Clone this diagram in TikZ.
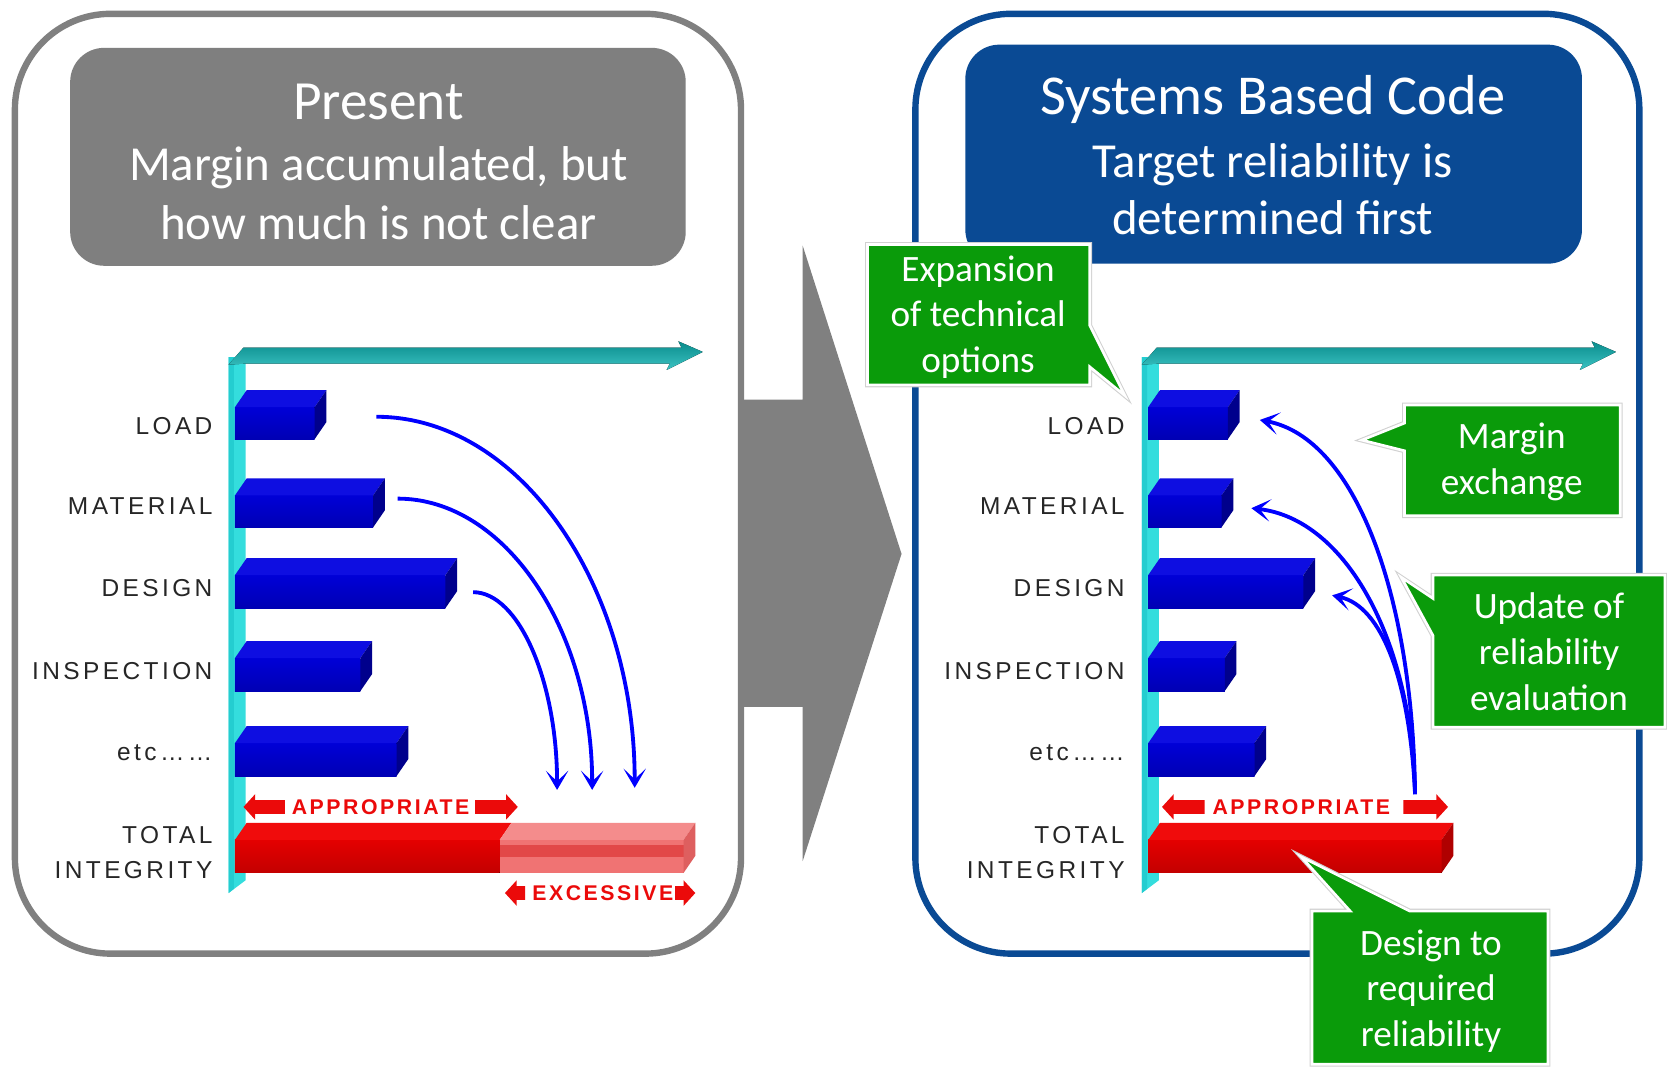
\documentclass[tikz,border=0pt]{standalone}
\usepackage{fontspec}
\setmainfont{Carlito}
\newfontfamily\lblfont[LetterSpace=14]{Liberation Sans}
\newfontfamily\tagfont[LetterSpace=12]{Liberation Sans}
\usetikzlibrary{arrows.meta,calc}
\definecolor{boxgray}{RGB}{128,128,128}
\definecolor{hdrgray}{RGB}{127,127,127}
\definecolor{sbcblue}{RGB}{10,74,148}
\definecolor{callgreen}{RGB}{10,155,10}
\definecolor{barfronttop}{RGB}{0,0,215}
\definecolor{barfrontbot}{RGB}{0,0,180}
\definecolor{bartop}{RGB}{14,14,225}
\definecolor{barside}{RGB}{0,0,140}
\definecolor{redfronttop}{RGB}{228,0,0}
\definecolor{redfrontbot}{RGB}{195,0,0}
\definecolor{redtop}{RGB}{240,12,12}
\definecolor{redside}{RGB}{175,0,0}
\definecolor{pinkfront}{RGB}{240,115,115}
\definecolor{pinktop}{RGB}{244,140,140}
\definecolor{pinkside}{RGB}{222,95,95}
\definecolor{pinkband}{RGB}{226,72,72}
\definecolor{axcyan}{RGB}{52,221,221}
\definecolor{axcyandk}{RGB}{36,205,208}
\definecolor{axteal}{RGB}{10,140,140}
\definecolor{axteallt}{RGB}{60,195,195}
\definecolor{tagred}{RGB}{235,10,10}
\definecolor{curvblue}{RGB}{0,0,255}

% 3D bar: x0, ytop, xright, ybottom, front style, top colour, side colour
\newcommand\tdbar[7]{%
  \pgfmathsetmacro\tdA{#2+16}\pgfmathsetmacro\tdB{#1+11}%
  \pgfmathsetmacro\tdC{#3-11}\pgfmathsetmacro\tdD{#4-16}%
  \fill[#5] (#1,\tdA) rectangle (\tdC,#4);
  \fill[#6] (#1,\tdA) -- (\tdB,#2) -- (#3,#2) -- (\tdC,\tdA) -- cycle;
  \fill[#7] (\tdC,\tdA) -- (#3,#2) -- (#3,\tdD) -- (\tdC,#4) -- cycle;
}
% left-pointing red arrow piece: tip x, shaft end x, y
\newcommand\larrow[3]{%
  \fill[tagred] (#1,#3) -- (#1+11,#3-12) -- (#1+11,#3-6.5) -- (#2,#3-6.5)
    -- (#2,#3+6.5) -- (#1+11,#3+6.5) -- (#1+11,#3+12) -- cycle;
}
% right-pointing red arrow piece: tip x, shaft end x, y
\newcommand\rarrow[3]{%
  \fill[tagred] (#1,#3) -- (#1-11,#3-12) -- (#1-11,#3-6.5) -- (#2,#3-6.5)
    -- (#2,#3+6.5) -- (#1-11,#3+6.5) -- (#1-11,#3+12) -- cycle;
}
% chart axis, shifted by #1
\newcommand\chartaxis[1]{%
  \begin{scope}[xshift=#1pt]
    \fill[axcyan] (215,336) -- (231,336) -- (231,828) -- (215,840) -- cycle;
    \fill[axcyandk] (215,336) -- (220,336) -- (220,836) -- (215,840) -- cycle;
    \fill[top color=axteal, bottom color=axteallt] (215,343) -- (229,327) -- (641,327)
      -- (638,321) -- (661,331) -- (627,348) -- (630,342) -- (231,342) -- cycle;
  \end{scope}
}

\begin{document}
\begin{tikzpicture}[x=1pt,y=-1pt,
  lbl/.style={font=\lblfont\fontsize{23}{27}\selectfont, anchor=base east, inner sep=0pt, text=black!85},
  tag/.style={font=\tagfont\bfseries\fontsize{20}{24}\selectfont, anchor=base, inner sep=0pt, text=tagred},
  callout/.style={fill=callgreen, draw=white, line width=2.5pt, line join=miter},
  calloutshadow/.style={draw=black!18, line width=4.5pt, line join=miter},
  ctext/.style={font=\fontsize{35}{42}\selectfont, text=white, anchor=base, inner sep=0pt},
  htitle/.style={font=\fontsize{52}{60}\selectfont, text=white, anchor=base, inner sep=0pt},
  hsub/.style={font=\fontsize{46}{55}\selectfont, text=white, anchor=base, inner sep=0pt},
  curv/.style={draw=curvblue, line width=3.6pt, -{Stealth[length=18pt,width=21pt,inset=10pt]}},
  bluefront/.style={top color=barfronttop, bottom color=barfrontbot},
  redfront/.style={top color=redfronttop, bottom color=redfrontbot}
]
\useasboundingbox (0,0) rectangle (1568,1006);

% ---------- outer panels ----------
\draw[boxgray, line width=6pt, rounded corners=90pt, fill=white] (14,13) rectangle (697,897);
\draw[sbcblue, line width=6pt, rounded corners=90pt, fill=white] (861,13) rectangle (1542,897);

% big transition arrow
\fill[boxgray] (697,376) -- (755,376) -- (755,231) -- (848,521) -- (755,810) -- (755,665) -- (697,665) -- cycle;

% ---------- headers ----------
\fill[hdrgray, rounded corners=32pt] (66,45) rectangle (645,250);
\node[htitle] (hp1) at (356,112) {Present};
\node[hsub] (hp2) at (356,170) {Margin accumulated, but};
\node[hsub] (hp3) at (356,225) {how much is not clear};

\fill[sbcblue, rounded corners=32pt] (908,42) rectangle (1488,248);
\node[htitle, font=\fontsize{53}{60}\selectfont] (hs1) at (1197,108) {Systems Based Code};
\node[hsub] (hs2) at (1197,167) {Target reliability is};
\node[hsub] (hs3) at (1197,221) {determined first};

% ---------- left chart ----------
\chartaxis{0}
\tdbar{221}{367}{307}{413}{bluefront}{bartop}{barside}
\tdbar{221}{450}{362}{496}{bluefront}{bartop}{barside}
\tdbar{221}{525}{430}{572}{bluefront}{bartop}{barside}
\tdbar{221}{603}{350}{650}{bluefront}{bartop}{barside}
\tdbar{221}{683}{384}{730}{bluefront}{bartop}{barside}
% total integrity (appropriate part + excessive part)
\fill[redfront] (221,790) rectangle (470,821);
\fill[redtop] (221,790) -- (232,774) -- (481,774) -- (470,790) -- cycle;
\fill[pinkfront] (470,790) rectangle (643,821);
\fill[pinkband] (470,795) rectangle (643,806);
\fill[pinktop] (470,790) -- (481,774) -- (654,774) -- (643,790) -- cycle;
\fill[pinkside] (643,790) -- (654,774) -- (654,805) -- (643,821) -- cycle;

\node[lbl] (lL1) at (200,409) {LOAD};
\node[lbl] (lL2) at (200,484) {MATERIAL};
\node[lbl] (lL3) at (200,561) {DESIGN};
\node[lbl] (lL4) at (200,639) {INSPECTION};
\node[lbl] (lL5) at (200,715) {etc……};
\node[lbl] (lL6) at (200,793) {TOTAL};
\node[lbl] (lL7) at (200,826) {INTEGRITY};

\larrow{229}{268}{759}
\rarrow{487}{447}{759}
\node[tag] (lapp) at (358,766) {APPROPRIATE};
\larrow{475}{494}{840}
\rarrow{654}{635}{840}
\node[tag] (lexc) at (567,847) {EXCESSIVE};

\coordinate (la1) at (354,392);
\coordinate (la2) at (374,469);
\coordinate (la3) at (445,557);
\coordinate (lb1) at (597,741);
\coordinate (lb2) at (557,743);
\coordinate (lb3) at (524,743);
\draw[curv] (la1) .. controls (488,392) and (597,549) .. (lb1);
\draw[curv] (la2) .. controls (475,469) and (557,592) .. (lb2);
\draw[curv] (la3) .. controls (488,557) and (524,641) .. (lb3);

% ---------- right chart ----------
\chartaxis{859}
\tdbar{1080}{367}{1166}{413}{bluefront}{bartop}{barside}
\tdbar{1080}{450}{1160}{496}{bluefront}{bartop}{barside}
\tdbar{1080}{525}{1237}{572}{bluefront}{bartop}{barside}
\tdbar{1080}{603}{1163}{650}{bluefront}{bartop}{barside}
\tdbar{1080}{683}{1191}{730}{bluefront}{bartop}{barside}
\tdbar{1080}{774}{1367}{821}{redfront}{redtop}{redside}

\node[lbl] (rL1) at (1058,409) {LOAD};
\node[lbl] (rL2) at (1058,484) {MATERIAL};
\node[lbl] (rL3) at (1058,561) {DESIGN};
\node[lbl] (rL4) at (1058,639) {INSPECTION};
\node[lbl] (rL5) at (1058,715) {etc……};
\node[lbl] (rL6) at (1058,793) {TOTAL};
\node[lbl] (rL7) at (1058,826) {INTEGRITY};

\coordinate (rs) at (1331,747);
\coordinate (rb1) at (1185,395);
\coordinate (rb2) at (1177,478);
\coordinate (rb3) at (1253,560);
\draw[curv] (rs) .. controls (1329,560) and (1275,412) .. (rb1);
\draw[curv] (rs) .. controls (1328,600) and (1265,488) .. (rb2);
\draw[curv] (rs) .. controls (1326,640) and (1300,570) .. (rb3);

\larrow{1093}{1133}{759}
\rarrow{1362}{1320}{759}
\node[tag] (rapp) at (1224,766) {APPROPRIATE};

% ---------- callouts ----------
\path[calloutshadow] (816,230) -- (1025,230) -- (1025,306) -- (1058,372) -- (1025,345) -- (1025,362) -- (816,362) -- cycle;
\path[callout] (816,230) -- (1025,230) -- (1025,306) -- (1058,372) -- (1025,345) -- (1025,362) -- (816,362) -- cycle;
\node[ctext] (ce1) at (920,265) {Expansion};
\node[ctext] (ce2) at (920,307) {of technical};
\node[ctext] (ce3) at (920,350) {options};

\path[calloutshadow] (1321,381) -- (1524,381) -- (1524,485) -- (1321,485) -- (1321,424) -- (1281,414) -- (1321,398) -- cycle;
\path[callout] (1321,381) -- (1524,381) -- (1524,485) -- (1321,485) -- (1321,424) -- (1281,414) -- (1321,398) -- cycle;
\node[ctext] (cm1) at (1422,422) {Margin};
\node[ctext] (cm2) at (1422,465) {exchange};

\path[calloutshadow] (1348,541) -- (1566,541) -- (1566,684) -- (1348,684) -- (1348,598) -- (1318,543) -- (1348,563) -- cycle;
\path[callout] (1348,541) -- (1566,541) -- (1566,684) -- (1348,684) -- (1348,598) -- (1318,543) -- (1348,563) -- cycle;
\node[ctext] (cu1) at (1457,582) {Update of};
\node[ctext] (cu2) at (1457,625) {reliability};
\node[ctext] (cu3) at (1457,668) {evaluation};

\path[calloutshadow] (1234,857) -- (1270,857) -- (1224,806) -- (1326,857) -- (1456,857) -- (1456,1001) -- (1234,1001) -- cycle;
\path[callout] (1234,857) -- (1270,857) -- (1224,806) -- (1326,857) -- (1456,857) -- (1456,1001) -- (1234,1001) -- cycle;
\node[ctext] (cd1) at (1346,899) {Design to};
\node[ctext] (cd2) at (1346,941) {required};
\node[ctext] (cd3) at (1346,984) {reliability};
\end{tikzpicture}
\end{document}
